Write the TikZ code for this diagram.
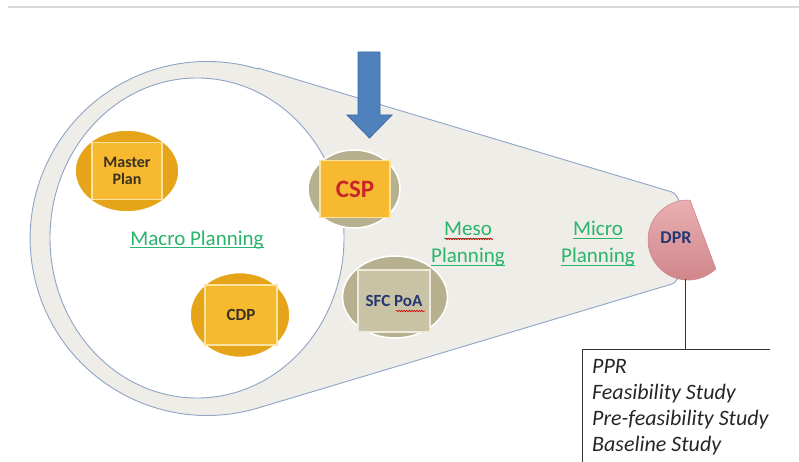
\documentclass[tikz,border=0pt]{standalone}
\usepackage{fontspec}
\setmainfont{Carlito}
\usetikzlibrary{shapes.geometric,decorations.pathmorphing}
\definecolor{cEdge}{HTML}{8EA4C6}
\definecolor{cFunnel}{HTML}{EEEDE8}
\definecolor{cGold}{HTML}{E6A519}
\definecolor{cGoldLt}{HTML}{F6B92F}
\definecolor{cGoldRim}{HTML}{FBE3A0}
\definecolor{cTan}{HTML}{B7B08F}
\definecolor{cTanLt}{HTML}{C9C3A5}
\definecolor{cTanRim}{HTML}{EEEBDC}
\definecolor{cLevel}{HTML}{2BB46D}
\definecolor{cArrow}{HTML}{4F81BD}
\definecolor{cArrowDk}{HTML}{3A6BA5}
\definecolor{cDPR}{HTML}{EAB0B2}
\definecolor{cDPRDk}{HTML}{CF868B}
\definecolor{cNavy}{HTML}{263670}
\definecolor{cInk}{HTML}{3A3120}
\definecolor{cCSP}{HTML}{C8262B}
% underlined planning labels
\newsavebox\lvlbox
\newcommand{\lvl}[1]{\sbox\lvlbox{#1}\rlap{\rule[-3.4pt]{\wd\lvlbox}{1.1pt}}\usebox\lvlbox}

\begin{document}
\begin{tikzpicture}[x=1pt, y=-1pt,
  badge/.style={ellipse, draw=white, line width=1.6pt, inner sep=0pt},
  gold/.style={badge, fill=cGold},
  tan/.style={badge, fill=cTan},
  tile/.style={draw, line width=1.3pt, minimum width=70pt, minimum height=57pt,
               inner sep=0pt, align=center, font=\bfseries\fontsize{16}{17}\selectfont},
  goldtile/.style={tile, fill=cGoldLt, draw=cGoldRim, text=cInk},
  tantile/.style={tile, fill=cTanLt, draw=cTanRim, text=cNavy},
  level/.style={text=cLevel, align=center, font=\fontsize{21}{27}\selectfont},
  spell/.style={red!85!black, line width=0.6pt, decorate,
                decoration={snake, amplitude=0.7pt, segment length=2.5pt}},
]
  \useasboundingbox (0,0) rectangle (799,462);
  % header rule
  \draw[black!15, line width=1.2pt] (8,7) -- (799,7);
  % funnel and inner ring
  \filldraw[fill=cFunnel, draw=cEdge, line width=0.9pt]
    (258,68) -- (672,192) .. controls (688,197) and (688,279) .. (672,284)
    -- (258,408) arc[start angle=73.3, end angle=286.7, radius=177] -- cycle;
  \filldraw[fill=white, draw=cEdge, line width=0.9pt]
    (197,238) ellipse[x radius=147, y radius=160];
  % arrow onto CSP
  \filldraw[fill=cArrow, draw=cArrowDk, line width=0.8pt]
    (358,52) -- (380,52) -- (380,115) -- (392,115) -- (369.5,138)
    -- (347,115) -- (358,115) -- cycle;
  % macro level
  \node[gold, minimum width=104pt, minimum height=82pt] (masterring) at (127,171) {};
  \node[goldtile, minimum height=57pt] (master) at (127,171) {Master\\Plan};
  \node[gold, minimum width=100pt, minimum height=85pt] (cdpring) at (240,315) {};
  \node[goldtile, minimum width=72pt, minimum height=60pt,
        font=\bfseries\fontsize{17}{18}\selectfont] (cdp) at (241,315) {CDP};
  \node[level, anchor=base] (macro) at (197,245) {\lvl{Macro Planning}};
  % meso level
  \node[tan, minimum width=92pt, minimum height=78pt] (cspring) at (354,189) {};
  \node[goldtile, text=cCSP, font=\bfseries\fontsize{25}{26}\selectfont] (csp) at (355,189) {CSP};
  \node[tan, minimum width=105pt, minimum height=82pt] (sfcring) at (395,297) {};
  \node[tantile, minimum width=72pt, minimum height=62pt,
        font=\bfseries\fontsize{17}{18}\selectfont] (sfc) at (394,301) {SFC PoA};
  \draw[spell] (396,311) -- (425,311);
  \node[level] (meso) at (468,244) {\lvl{Meso}\\\lvl{Planning}};
  \draw[spell] (445,239) -- (493,239);
  % micro level
  \node[level] (micro) at (598,244) {\lvl{Micro}\\\lvl{Planning}};
  \shadedraw[top color=cDPR, bottom color=cDPRDk, draw=cDPRDk, line width=0.6pt]
    (690.1,200.1) arc[start angle=-87, end angle=-314, radius=40] -- cycle;
  \node[text=cNavy, font=\bfseries\fontsize{18}{18}\selectfont] (dpr) at (676,238) {DPR};
  % project reports
  \coordinate (dprfoot) at (685,279);
  \coordinate (boxtop) at (685,349);
  \draw[black!80, line width=0.9pt] (770,349) -- (582,349) -- (582,462);
  \draw[black!80, line width=0.9pt] (dprfoot) -- (boxtop);
  \node[anchor=north west, align=left, inner sep=0pt, text=black!85,
        font=\itshape\fontsize{22}{26}\selectfont] (studies) at (592,359)
    {PPR\\Feasibility Study\\Pre-feasibility Study\\Baseline Study};
\end{tikzpicture}
\end{document}
